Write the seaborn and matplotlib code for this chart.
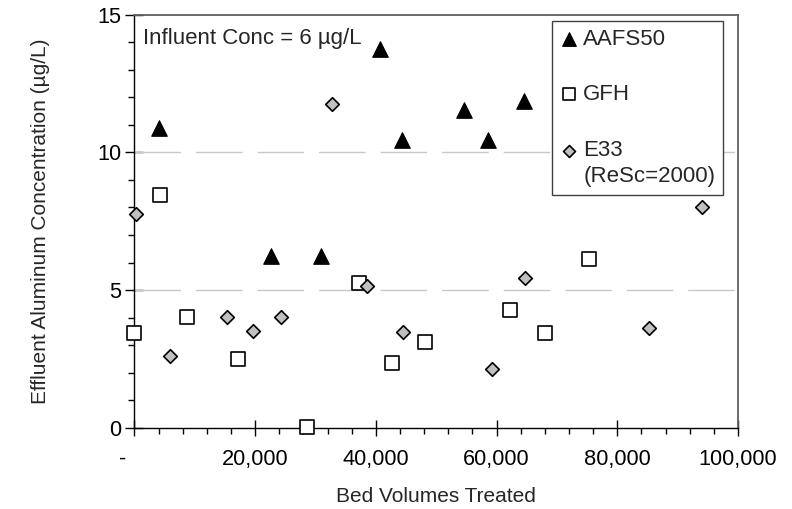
import seaborn as sns
import matplotlib.pyplot as plt
import matplotlib.ticker as mticker
import pandas as pd

# Effluent aluminium concentration vs bed volumes treated
aafs50_bv = [4100, 22700, 30900, 40700, 44400, 54600, 58500, 64500]
aafs50_al = [10.9, 6.25, 6.25, 13.75, 10.45, 11.55, 10.45, 11.85]

gfh_bv = [0, 4200, 8750, 17100, 28600, 37200, 42700, 48100, 62200, 68000, 75300]
gfh_al = [3.43, 8.45, 4.01, 2.51, 0.02, 5.27, 2.34, 3.12, 4.28, 3.43, 6.12]

e33_bv = [200, 5900, 15400, 19600, 24300, 32800, 38600, 44500, 59200, 64700, 85300, 94000]
e33_al = [7.75, 2.60, 4.03, 3.51, 4.03, 11.75, 5.16, 3.46, 2.12, 5.45, 3.63, 8.03]

x_ticks = [0, 20000, 40000, 60000, 80000, 100000]
x_tick_labels = ['-    ', '20,000', '40,000', '60,000', '80,000', '100,000']
y_ticks = [0, 5, 10, 15]

sns.set_style('white')
plt.rcParams['font.family'] = ['Liberation Sans', 'DejaVu Sans']

fig = plt.figure(figsize=(7.92, 5.09), dpi=100)
ax = fig.add_axes([0.1698, 0.1597, 0.7620, 0.8114])

df_a = pd.DataFrame({'bv': aafs50_bv, 'al': aafs50_al})
df_g = pd.DataFrame({'bv': gfh_bv, 'al': gfh_al})
df_e = pd.DataFrame({'bv': e33_bv, 'al': e33_al})

sns.scatterplot(data=df_a, x='bv', y='al', marker='^', s=125, color='black',
                edgecolor='black', linewidth=0.8, label='AAFS50', ax=ax, zorder=3, clip_on=False)
sns.scatterplot(data=df_g, x='bv', y='al', marker='s', s=90, color='white',
                edgecolor='black', linewidth=1.2, label='GFH', ax=ax, zorder=3, clip_on=False)
sns.scatterplot(data=df_e, x='bv', y='al', marker='D', s=48, color='#c0c0c0',
                edgecolor='black', linewidth=1.2, label='E33\n(ReSc=2000)', ax=ax, zorder=3,
                clip_on=False)

ax.set_xlim(0, 100000)
ax.set_ylim(0, 15)

# dashed gridlines at 5 and 10
for yv in [5, 10]:
    ax.axhline(yv, color='#c8c8c8', lw=1.0, dashes=(33.5, 10.8), zorder=1)

ax.set_xticks(x_ticks)
ax.set_xticklabels(x_tick_labels)
ax.xaxis.set_minor_locator(mticker.MultipleLocator(4000))
ax.set_yticks(y_ticks)
ax.yaxis.set_minor_locator(mticker.MultipleLocator(1))

ax.tick_params(axis='x', which='major', direction='inout', length=11, width=1,
               pad=10, labelsize=15.7)
ax.tick_params(axis='x', which='minor', direction='out', length=4, width=1)
ax.tick_params(axis='y', which='major', direction='inout', length=13, width=1,
               pad=3, labelsize=15.7)
ax.tick_params(axis='y', which='minor', direction='out', length=4, width=1)
ax.tick_params(bottom=True, left=True, which='both', colors='black')

for side in ['left', 'bottom']:
    ax.spines[side].set_color('black')
    ax.spines[side].set_linewidth(1.0)
for side in ['top', 'right']:
    ax.spines[side].set_color('#606060')
    ax.spines[side].set_linewidth(1.3)

ax.set_xlabel('Bed Volumes Treated', fontsize=15, labelpad=12)
ax.set_ylabel('Effluent Aluminum Concentration (µg/L)', fontsize=15, labelpad=34)

ax.text(0.014, 0.968, 'Influent Conc = 6 µg/L', transform=ax.transAxes,
        fontsize=16, ha='left', va='top')

leg = ax.legend(loc='upper right', bbox_to_anchor=(0.9751, 0.9848), frameon=True,
                fancybox=False, edgecolor='#404040', markerscale=0.88,
                handlelength=0.8, handletextpad=0.25, labelspacing=1.55,
                borderpad=0.35, borderaxespad=0, fontsize=16)
leg.get_frame().set_linewidth(1.0)
leg.get_frame().set_alpha(1)
leg.get_texts()[2].set_linespacing(1.35)

# put the E33 marker on the first line of its two-line label
e33_handle = leg.legend_handles[2]
offs = e33_handle.get_offsets().copy()
offs[:, 1] += 0.68 * 16
e33_handle.set_offsets(offs)

fig.savefig('out.png', dpi=100)
